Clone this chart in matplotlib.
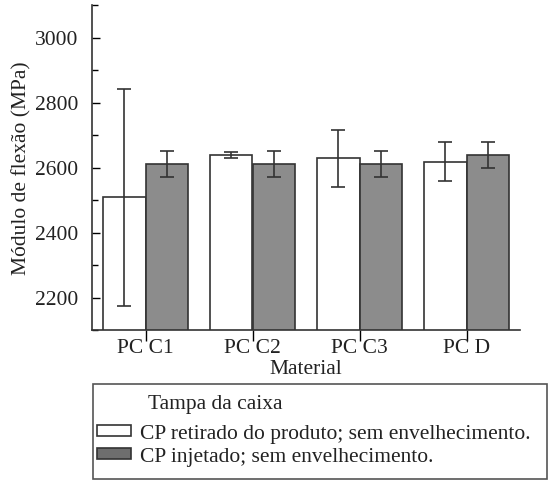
import matplotlib
matplotlib.use("Agg")
import matplotlib.pyplot as plt
import numpy as np
from matplotlib.patches import Rectangle, Patch
from matplotlib.ticker import MultipleLocator

categories = ["PC C1", "PC C2", "PC C3", "PC D"]
retirado = [2508, 2639, 2628, 2618]
retirado_err = [335, 10, 87, 59]
injetado = [2612, 2612, 2612, 2638]
injetado_err = [40, 40, 40, 40]
yticks = [2200, 2400, 2600, 2800, 3000]

plt.rcParams['font.family'] = ['Liberation Serif', 'DejaVu Serif']
fs = 15.5

fig = plt.figure(figsize=(5.49, 4.81), dpi=100)
ax = fig.add_axes([92/549, 1-331/481, (520-92)/549, (331-6)/481])

x = np.arange(len(categories))
w = 0.40
ec = '#333333'
ax.bar(x - w/2, retirado, w, color='white', edgecolor=ec, linewidth=1.2, zorder=2)
ax.bar(x + w/2, injetado, w, color='#8c8c8c', edgecolor=ec, linewidth=1.2, zorder=2)
ax.errorbar(x - w/2, retirado, yerr=retirado_err, fmt='none', ecolor=ec, elinewidth=1.2, capsize=4.7, capthick=1.2, zorder=3)
ax.errorbar(x + w/2, injetado, yerr=injetado_err, fmt='none', ecolor=ec, elinewidth=1.2, capsize=4.7, capthick=1.2, zorder=3)

ax.set_xlim(-0.5, 3.5)
ax.set_ylim(2100, 3100)
ax.set_yticks(yticks)
ax.yaxis.set_minor_locator(MultipleLocator(100))
ax.set_xticks(x)
ax.set_xticklabels(categories, fontsize=fs, color='#222222')
ax.tick_params(axis='y', which='major', direction='in', length=6, width=1, labelsize=fs, labelcolor='#222222', pad=10)
ax.tick_params(axis='y', which='minor', direction='in', length=4, width=1)
ax.tick_params(axis='x', which='major', direction='out', length=8, width=1, pad=-2)
for s in ['top', 'right']:
    ax.spines[s].set_visible(False)
for s in ['left', 'bottom']:
    ax.spines[s].set_color(ec)
    ax.spines[s].set_linewidth(1.2)
ax.set_ylabel("Módulo de flexão (MPa)", fontsize=fs, color='#222222', labelpad=2)
ax.set_xlabel("Material", fontsize=fs, color='#222222', labelpad=1)

# legend box
fig.patches.append(Rectangle((93/549, 1-480/481), (547-93)/549, (480-385)/481,
                             transform=fig.transFigure, fill=False, edgecolor='#555555', linewidth=1.2))
fig.text(148/549, 1-405/481, "Tampa da caixa", fontsize=fs, va='center', ha='left', color='#222222')
handles = [Patch(facecolor='white', edgecolor=ec, linewidth=1.2),
           Patch(facecolor='#6e6e6e', edgecolor=ec, linewidth=1.2)]
labels = ["CP retirado do produto; sem envelhecimento.", "CP injetado; sem envelhecimento."]
fig.legend(handles, labels, loc='upper left', bbox_to_anchor=(97/549, 1-425/481),
           frameon=False, fontsize=fs, handlelength=1.6, handleheight=0.45,
           handletextpad=0.4, labelspacing=0.2, borderaxespad=0, borderpad=0,
           labelcolor='#222222')

fig.savefig("out.png", dpi=100)
